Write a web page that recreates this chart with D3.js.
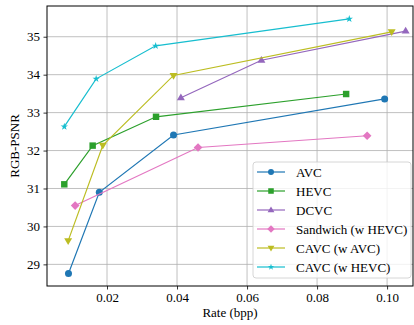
<!DOCTYPE html>
<html>
<head>
<meta charset="utf-8">
<script src="https://cdn.jsdelivr.net/npm/d3@7"></script>
<style>
  body { margin: 0; background: #fff; }
  text { font-family: "Liberation Serif", "Times New Roman", Times, serif !important; }
</style>
</head>
<body>
<div id="chart"></div>
<script>
// data
var seriesNames = ["AVC", "HEVC", "DCVC", "Sandwich (w HEVC)", "CAVC (w AVC)", "CAVC (w HEVC)"];
var avcRate = [0.0090, 0.0178, 0.0390, 0.0993];
var avcPsnr = [28.76, 30.90, 32.41, 33.36];
var hevcRate = [0.0078, 0.0159, 0.0340, 0.0883];
var hevcPsnr = [31.11, 32.13, 32.89, 33.49];
var dcvcRate = [0.0411, 0.0641, 0.1053];
var dcvcPsnr = [33.39, 34.38, 35.15];
var sandRate = [0.0109, 0.0460, 0.0943];
var sandPsnr = [30.55, 32.08, 32.39];
var cavcAvcRate = [0.0089, 0.0188, 0.0390, 0.1013];
var cavcAvcPsnr = [29.62, 32.14, 33.98, 35.13];
var cavcHevcRate = [0.0078, 0.0169, 0.0339, 0.0892];
var cavcHevcPsnr = [32.63, 33.89, 34.76, 35.47];
var xTicks = [0.02, 0.04, 0.06, 0.08, 0.10];
var yTicks = [29, 30, 31, 32, 33, 34, 35];

var colors = ["#1f77b4", "#2ca02c", "#9467bd", "#e377c2", "#bcbd22", "#17becf"];
var symbols = ["circle", "square", "triUp", "diamond", "triDown", "star"];

var series = [
  [avcRate, avcPsnr], [hevcRate, hevcPsnr], [dcvcRate, dcvcPsnr],
  [sandRate, sandPsnr], [cavcAvcRate, cavcAvcPsnr], [cavcHevcRate, cavcHevcPsnr]
].map(function (s, i) {
  return {
    name: seriesNames[i], color: colors[i], sym: symbols[i],
    pts: s[0].map(function (r, j) { return { x: r, y: s[1][j] }; })
  };
});

var W = 414, H = 325;
var m = { left: 47, right: 1, top: 6, bottom: 39 };
var FONT = "'Liberation Serif', 'Times New Roman', serif";

var svg = d3.select("#chart").append("svg").attr("width", W).attr("height", H);

var x = d3.scaleLinear().domain([0.00286, 0.1074]).range([m.left, W - m.right]);
var y = d3.scaleLinear().domain([28.43, 35.81]).range([H - m.bottom, m.top]);

// grid
svg.append("g").selectAll("line").data(xTicks).enter().append("line")
  .attr("x1", function (d) { return x(d); }).attr("x2", function (d) { return x(d); })
  .attr("y1", m.top).attr("y2", H - m.bottom)
  .attr("stroke", "#b0b0b0").attr("stroke-width", 0.8);
svg.append("g").selectAll("line").data(yTicks).enter().append("line")
  .attr("y1", function (d) { return y(d); }).attr("y2", function (d) { return y(d); })
  .attr("x1", m.left).attr("x2", W - m.right)
  .attr("stroke", "#b0b0b0").attr("stroke-width", 0.8);

// axes
var xAxis = d3.axisBottom(x).tickValues(xTicks).tickFormat(d3.format(".2f")).tickSizeInner(3.5).tickSizeOuter(0).tickPadding(3.5);
var yAxis = d3.axisLeft(y).tickValues(yTicks).tickFormat(d3.format("d")).tickSizeInner(3.5).tickSizeOuter(0).tickPadding(3.5);

var gx = svg.append("g").attr("transform", "translate(0," + (H - m.bottom) + ")").call(xAxis);
var gy = svg.append("g").attr("transform", "translate(" + m.left + ",0)").call(yAxis);
[gx, gy].forEach(function (g) {
  g.attr("font-family", FONT).attr("font-size", 13);
  g.select(".domain").remove();
  g.selectAll("text").attr("fill", "#000");
  g.selectAll(".tick line").attr("stroke", "#000").attr("stroke-width", 0.8);
});

// frame
svg.append("rect").attr("x", m.left).attr("y", m.top)
  .attr("width", W - m.right - m.left).attr("height", H - m.bottom - m.top)
  .attr("fill", "none").attr("stroke", "#000").attr("stroke-width", 1);

svg.append("text").attr("x", (m.left + W - m.right) / 2).attr("y", 317)
  .attr("text-anchor", "middle").attr("font-family", FONT).attr("font-size", 13).text("Rate (bpp)");
svg.append("text").attr("transform", "translate(19," + ((m.top + H - m.bottom) / 2) + ") rotate(-90)")
  .attr("text-anchor", "middle").attr("font-family", FONT).attr("font-size", 13).text("RGB-PSNR");

function markerPath(sym, s) {
  if (sym === "circle") return d3.symbol(d3.symbolCircle, s * s * Math.PI / 4)();
  if (sym === "square") return d3.symbol(d3.symbolSquare, s * s * 0.85)();
  if (sym === "diamond") {
    var r = s * 0.62;
    return "M0," + (-r) + "L" + r + ",0L0," + r + "L" + (-r) + ",0Z";
  }
  if (sym === "triUp" || sym === "triDown") {
    var k = sym === "triUp" ? 1 : -1, r2 = s * 0.6;
    return "M0," + (-r2 * k) + "L" + (r2 * 0.95) + "," + (r2 * 0.6 * k) + "L" + (-r2 * 0.95) + "," + (r2 * 0.6 * k) + "Z";
  }
  return d3.symbol(d3.symbolStar, s * s * 0.35)();
}

var line = d3.line().x(function (d) { return x(d.x); }).y(function (d) { return y(d.y); });

series.forEach(function (s) {
  var g = svg.append("g");
  g.append("path").attr("d", line(s.pts)).attr("fill", "none")
    .attr("stroke", s.color).attr("stroke-width", 1.2);
  g.selectAll("path.mk").data(s.pts).enter().append("path").attr("class", "mk")
    .attr("transform", function (d) { return "translate(" + x(d.x) + "," + y(d.y) + ")"; })
    .attr("d", markerPath(s.sym, 7))
    .attr("fill", s.color);
});

// legend
var lg = svg.append("g").attr("transform", "translate(253,162)");
lg.append("rect").attr("width", 158).attr("height", 116).attr("rx", 3)
  .attr("fill", "#fff").attr("fill-opacity", 0.8).attr("stroke", "#cccccc").attr("stroke-width", 0.8);
var item = lg.selectAll("g.it").data(series).enter().append("g")
  .attr("transform", function (d, i) { return "translate(0," + (10 + i * 19) + ")"; });
item.append("line").attr("x1", 4).attr("x2", 32)
  .attr("stroke", function (d) { return d.color; }).attr("stroke-width", 1.2);
item.append("path").attr("transform", "translate(18,0)")
  .attr("d", function (d) { return markerPath(d.sym, 6); })
  .attr("fill", function (d) { return d.color; });
item.append("text").attr("x", 43).attr("y", 4.5).attr("font-family", FONT).attr("font-size", 13).text(function (d) { return d.name; });
</script>
</body>
</html>
